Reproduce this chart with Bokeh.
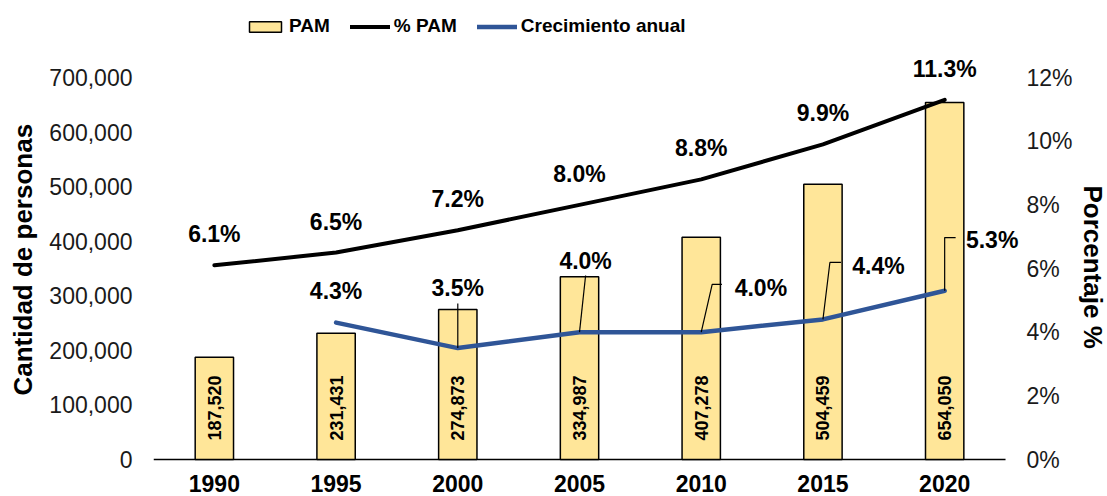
import numpy as np
from bokeh.plotting import figure
from bokeh.models import (Range1d, LinearAxis, FixedTicker, NumeralTickFormatter, Title,
                          PrintfTickFormatter, ColumnDataSource, LabelSet, Legend, LegendItem)
from bokeh.core.properties import value
from bokeh.embed import file_html
from bokeh.resources import INLINE

# ---------------- data ----------------
years = ["1990", "1995", "2000", "2005", "2010", "2015", "2020"]
pam = [187520, 231431, 274873, 334987, 407278, 504459, 654050]
pct_pam = [6.1, 6.5, 7.2, 8.0, 8.8, 9.9, 11.3]
growth_years = ["1995", "2000", "2005", "2010", "2015", "2020"]
growth = [4.3, 3.5, 4.0, 4.0, 4.4, 5.3]
left_ticks = [0, 100000, 200000, 300000, 400000, 500000, 600000, 700000]
right_ticks = [0, 2, 4, 6, 8, 10, 12]

# ---------------- label placement (offsets from each point) ----------------
growth_label_dx = [0.0, 0.0, 0.05, 0.49, 0.456, 0.39]
growth_label_dy = [1.0, 1.90, 2.25, 1.40, 1.69, 1.61]
leader_paths = [None,
                [(0, 0), (0, 1.40)],
                [(0, 0), (0.05, 1.78)],
                [(0, 0), (0.09, 1.50), (0.17, 1.50)],
                [(0, 0), (0.057, 1.79), (0.148, 1.79)],
                [(0, 0), (0, 1.67), (0.09, 1.67)]]

FONT = "Liberation Sans"
BAR_FILL = "#FFE699"
BLUE = "#2F5597"

# layout: axis scale spans 382px; extra room above (legend) / below (year labels)
AXIS_PX = 382.0
TOP_PAD_PX = 67.0
BOT_PAD_PX = 37.0
RIGHT_PAD = 0.123  # category units of extra room at right

x_idx = list(range(len(years)))
gx = [years.index(y) for y in growth_years]

lo_f = -BOT_PAD_PX / AXIS_PX
hi_f = 1 + TOP_PAD_PX / AXIS_PX

p = figure(width=1107, height=496,
           x_range=Range1d(-0.5, len(years) - 0.5 + RIGHT_PAD),
           y_range=Range1d(left_ticks[-1] * lo_f, left_ticks[-1] * hi_f),
           output_backend="svg", toolbar_location=None,
           min_border_left=153, min_border_right=87, min_border_top=10, min_border_bottom=0)
p.outline_line_color = None
p.xgrid.grid_line_color = None
p.ygrid.grid_line_color = None
p.background_fill_color = "white"
p.border_fill_color = "white"
p.extra_y_ranges = {"pct": Range1d(right_ticks[-1] * lo_f, right_ticks[-1] * hi_f)}
p.xaxis.visible = False

# baseline (category axis line)
p.segment(x0=[x_idx[0] - 0.5], x1=[x_idx[-1] + 0.5], y0=[0], y1=[0],
          line_color="black", line_width=1.5)

# bars
bars = p.vbar(x=x_idx, top=pam, width=0.315, fill_color=BAR_FILL,
              line_color="black", line_width=1.5)

# lines
l_pct = p.line(x_idx, pct_pam, y_range_name="pct", line_color="black",
               line_width=4, line_cap="round", line_join="round")
l_gr = p.line(gx, growth, y_range_name="pct", line_color=BLUE,
              line_width=4.5, line_cap="round", line_join="round")

# leader lines
lx, ly = [], []
for i, path in enumerate(leader_paths):
    if path is None:
        continue
    lx.append([gx[i] + dx for dx, dy in path])
    ly.append([growth[i] + dy for dx, dy in path])
p.multi_line(lx, ly, y_range_name="pct", line_color="black", line_width=1.2)

# bar value labels (rotated)
p.text(x=x_idx, y=[0] * len(pam), text=[f"{v:,}" for v in pam], angle=np.pi / 2,
       text_align="left", text_baseline="middle", y_offset=-19,
       text_font=value(FONT), text_font_style="bold", text_font_size="18px",
       text_color="black")

# category labels
p.text(x=x_idx, y=[0] * len(years), text=years, y_offset=24,
       text_align="center", text_baseline="middle",
       text_font=value(FONT), text_font_style="bold", text_font_size="23px",
       text_color="black")

# % PAM labels
src_pct = ColumnDataSource(dict(x=x_idx, y=pct_pam, t=[f"{v:.1f}%" for v in pct_pam]))
p.add_layout(LabelSet(x="x", y="y", text="t", source=src_pct, y_range_name="pct",
                      y_offset=31, text_align="center", text_baseline="middle",
                      text_font=value(FONT), text_font_style="bold",
                      text_font_size="23px", text_color="black"))

# growth labels
src_gr = ColumnDataSource(dict(
    x=[g + dx for g, dx in zip(gx, growth_label_dx)],
    y=[v + dy for v, dy in zip(growth, growth_label_dy)],
    t=[f"{v:.1f}%" for v in growth]))
p.add_layout(LabelSet(x="x", y="y", text="t", source=src_gr, y_range_name="pct",
                      text_align="center", text_baseline="middle",
                      text_font=value(FONT), text_font_style="bold",
                      text_font_size="23px", text_color="black"))

# left axis
ya = p.yaxis[0]
ya.ticker = FixedTicker(ticks=left_ticks)
ya.formatter = NumeralTickFormatter(format="0,0")
ya.axis_line_color = None
ya.major_tick_line_color = None
ya.minor_tick_line_color = None
ya.major_tick_out = 0
ya.major_label_standoff = 21
ya.major_label_text_font = FONT
ya.major_label_text_font_size = "23px"
ya.major_label_text_color = "#1a1a1a"

# right axis
ra = LinearAxis(y_range_name="pct", ticker=FixedTicker(ticks=right_ticks),
                formatter=PrintfTickFormatter(format="%d%%"))
ra.axis_line_color = None
ra.major_tick_line_color = None
ra.minor_tick_line_color = None
ra.major_tick_out = 0
ra.major_label_standoff = 6
ra.major_label_text_font = FONT
ra.major_label_text_font_size = "23px"
ra.major_label_text_color = "#1a1a1a"
p.add_layout(ra, "right")

# axis titles
p.add_layout(Title(text="Cantidad de personas", align="left", offset=101,
                   vertical_align="top", standoff=14,
                   text_font=FONT, text_font_style="bold", text_font_size="26px",
                   text_color="black"), "left")
p.add_layout(Title(text="Porcentaje %", align="left", offset=175,
                   vertical_align="top", standoff=0,
                   text_font=FONT, text_font_style="bold", text_font_size="26px",
                   text_color="black"), "right")

# legend
legend = Legend(items=[LegendItem(label="PAM", renderers=[bars]),
                       LegendItem(label="% PAM", renderers=[l_pct]),
                       LegendItem(label="Crecimiento anual", renderers=[l_gr])],
                orientation="horizontal", location=(92, 459),
                glyph_width=40, glyph_height=13, label_standoff=4, spacing=20,
                padding=0, margin=0, border_line_color=None, background_fill_alpha=0,
                label_text_font=FONT,
                label_text_font_style="bold", label_text_font_size="19px",
                label_text_color="black")
p.add_layout(legend, "center")

open("out.html", "w").write(file_html(p, INLINE))
